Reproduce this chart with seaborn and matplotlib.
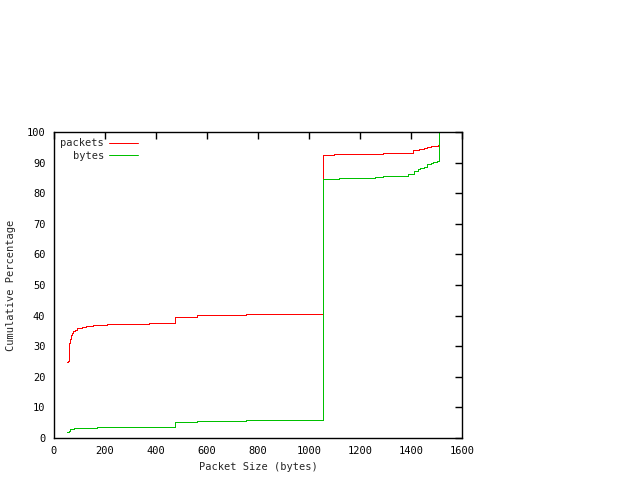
import matplotlib
matplotlib.use('Agg')
import matplotlib.pyplot as plt
import seaborn as sns
import pandas as pd

# cumulative distribution of packet size
pkt_size = [51, 56, 59, 63, 67, 71, 76, 82, 90, 109, 128, 152, 210, 372, 475, 536, 562, 752,
            1056, 1099, 1290, 1409, 1431, 1451, 1464, 1478, 1505, 1511, 1511]
pkt_pct = [24.8, 25.2, 30.9, 32.3, 33.7, 34.4, 35.0, 35.4, 35.8, 36.3, 36.6, 36.9, 37.3, 37.5, 39.4, 39.7, 40.1, 40.5,
           92.4, 92.7, 93.2, 94.0, 94.4, 94.8, 95.0, 95.4, 95.8, 100.0, 100.0]

byte_size = [52, 58, 65, 80, 171, 476, 561, 752,
             1056, 1116, 1260, 1290, 1390, 1410, 1429, 1436, 1449, 1463, 1477, 1488, 1501, 1511, 1511]
byte_pct = [1.9, 2.4, 2.8, 3.2, 3.5, 5.1, 5.4, 5.8,
            84.6, 84.9, 85.2, 85.7, 86.2, 87.1, 87.8, 88.2, 88.7, 89.4, 89.9, 90.2, 90.5, 100.0, 100.0]

sns.set_style('white')
plt.rcParams['font.family'] = ['DejaVu Sans Mono']
plt.rcParams['font.size'] = 7.5

fig = plt.figure(figsize=(6.4, 4.8), dpi=100)
ax = fig.add_axes([0.084, 0.0875, 0.638, 0.6375])

df_p = pd.DataFrame({'size': pkt_size, 'pct': pkt_pct})
df_b = pd.DataFrame({'size': byte_size, 'pct': byte_pct})
sns.lineplot(data=df_p, x='size', y='pct', ax=ax, color='#ff0000', lw=0.72,
             drawstyle='steps-post', label='packets', sort=False, antialiased=False)
sns.lineplot(data=df_b, x='size', y='pct', ax=ax, color='#00c000', lw=0.72,
             drawstyle='steps-post', label='bytes', sort=False, antialiased=False)

ax.set_xlim(0, 1600)
ax.set_ylim(0, 100)
ax.set_xticks(range(0, 1601, 200))
ax.set_yticks(range(0, 101, 10))
ax.tick_params(direction='in', length=5, width=1, top=True, right=True, colors='black', pad=6)
for s in ax.spines.values():
    s.set_color('black')
    s.set_linewidth(1)
ax.set_xlabel('Packet Size (bytes)', labelpad=4)
ax.set_ylabel('Cumulative Percentage', labelpad=8)

leg = ax.legend(loc='upper left', frameon=False, markerfirst=False, handlelength=2.8,
                borderaxespad=0.3, labelspacing=0.25, handletextpad=0.5, borderpad=0.3)
for t in leg.get_texts():
    t.set_ha('right')
leg._legend_box.align = 'right'

fig.savefig('out.png', dpi=100)
